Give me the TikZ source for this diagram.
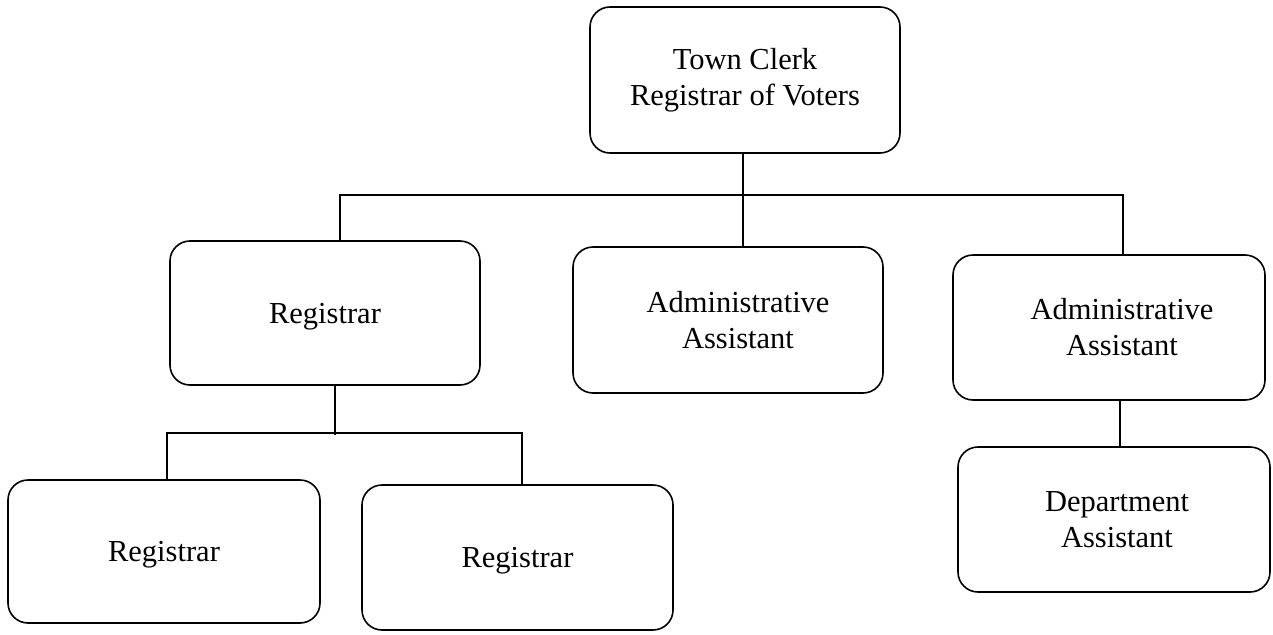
\documentclass[tikz,border=0pt]{standalone}
\usepackage{fontspec}
\setmainfont{Liberation Serif}
\begin{document}
\begin{tikzpicture}[x=1pt,y=-1pt,
  box/.style={draw, line width=1.6pt, rounded corners=20pt, minimum width=310pt,
    minimum height=145pt, inner sep=0pt, align=center,
    font=\fontsize{30.5}{36}\selectfont},
  onebox/.style={box, text depth=0pt},
  link/.style={line width=1.6pt}]
\useasboundingbox (0,0) rectangle (1273,634);
\node[box, minimum height=146pt] (T) at (745,80) {Town Clerk\\Registrar of Voters};
\node[onebox, minimum height=144pt] (R1) at (325,313) {Registrar};
\node[box, minimum height=146pt] (A1) at (728,320) {\hspace*{20pt}Administrative\\\hspace*{20pt}Assistant};
\node[box, minimum width=312pt] (A2) at (1109,327.5) {\hspace*{26pt}Administrative\\\hspace*{26pt}Assistant};
\node[box, minimum width=312pt] (D) at (1114,519.5) {\hspace*{6pt}Department\\\hspace*{6pt}Assistant};
\node[onebox, minimum width=312pt, minimum height=143pt] (R2) at (164,551.5) {Registrar};
\node[onebox, minimum width=311pt] (R3) at (517.5,557.5) {Registrar};
\draw[link] ([xshift=-2pt]T.south) -- ([xshift=15pt]A1.north);
\draw[link] ([xshift=15pt]R1.north) -- ++(0,-45) -| ([xshift=14pt]A2.north);
\draw[link] ([xshift=10pt]R1.south) -- ++(0,49);
\draw[link] ([xshift=3pt]R2.north) -- ++(0,-46) -| ([xshift=4.5pt]R3.north);
\draw[link] ([xshift=11pt]A2.south) -- ([xshift=6pt]D.north);
\end{tikzpicture}
\end{document}
